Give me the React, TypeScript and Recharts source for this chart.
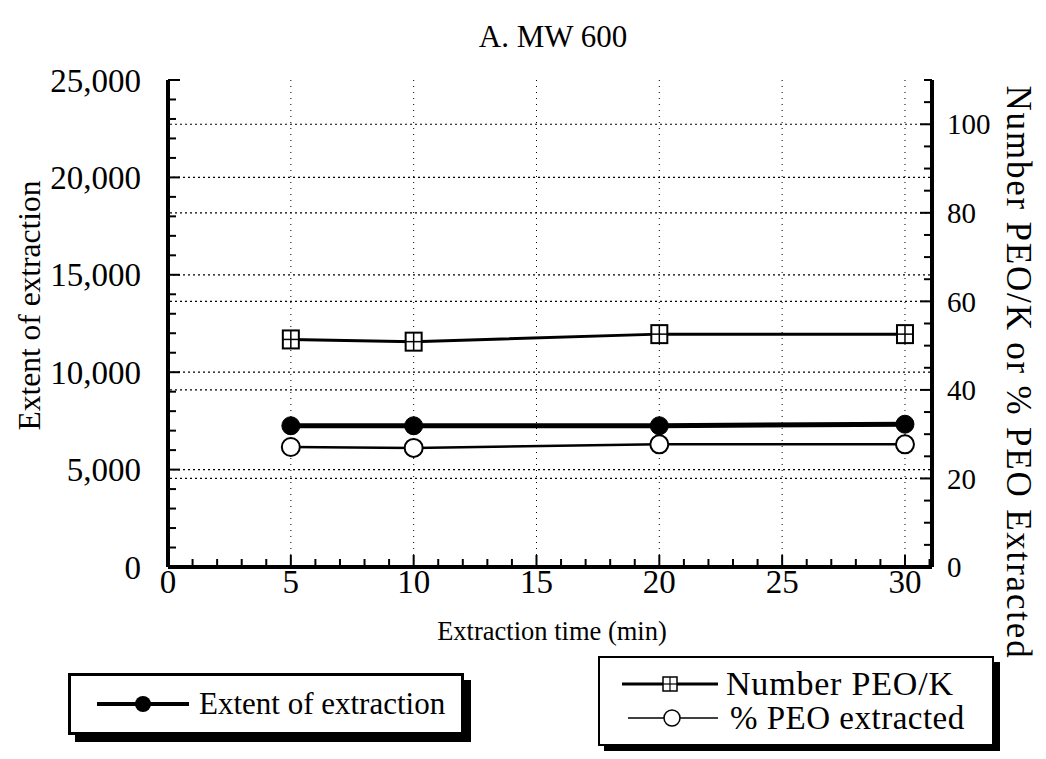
import React from 'react';
import { LineChart, Line, XAxis, YAxis, ReferenceLine, Label } from 'recharts';

const times = [5, 10, 20, 30];
const extentOfExtraction = [7250, 7250, 7250, 7330];
const numberPeoK = [51.4, 50.9, 52.6, 52.6];
const pctPeoExtracted = [27.1, 26.9, 27.7, 27.7];

const xMinorTicks = Array.from({ length: 32 }, (_, i) => i);
const leftTicks = Array.from({ length: 26 }, (_, i) => i * 1000);
const rightTicks = Array.from({ length: 23 }, (_, i) => i * 5);
const leftGrid = [5000, 10000, 15000, 20000];
const rightGrid = [20, 40, 60, 80, 100];
const xGrid = [5, 10, 15, 20, 25, 30];

const data = times.map((t, i) => ({
  time: t,
  extent: extentOfExtraction[i],
  number: numberPeoK[i],
  pct: pctPeoExtracted[i],
}));

const FONT = '"Liberation Serif", "Times New Roman", serif';

const fmt = (v: number) => v.toLocaleString('en-US');

const BottomTick = (props: any) => {
  const { x, y, payload } = props;
  const v = payload.value;
  const major = v % 5 === 0;
  return (
    <g>
      <line x1={x} x2={x} y1={y} y2={y - (major ? 12 : 8)} stroke="#000" strokeWidth={2} />
      {major && v <= 30 && (
        <text x={x} y={y + 26} textAnchor="middle" fontFamily={FONT} fontSize={33} fill="#000">
          {v}
        </text>
      )}
    </g>
  );
};

const TopTick = (props: any) => {
  const { x, y, payload } = props;
  const major = payload.value % 5 === 0;
  return <line x1={x} x2={x} y1={y} y2={y + (major ? 12 : 8)} stroke="#000" strokeWidth={2} />;
};

const LeftTick = (props: any) => {
  const { x, y, payload } = props;
  const v = payload.value;
  const major = v % 5000 === 0;
  return (
    <g>
      <line x1={x} x2={x + (major ? 12 : 8)} y1={y} y2={y} stroke="#000" strokeWidth={2} />
      {major && (
        <text x={x - 27} y={y} dy="0.35em" textAnchor="end" fontFamily={FONT} fontSize={33} fill="#000">
          {fmt(v)}
        </text>
      )}
    </g>
  );
};

const RightTick = (props: any) => {
  const { x, y, payload } = props;
  const v = payload.value;
  const major = v % 20 === 0 && v <= 100;
  return (
    <g>
      <line x1={x} x2={x - (major ? 12 : 8)} y1={y} y2={y} stroke="#000" strokeWidth={2} />
      {major && (
        <text x={x + 15} y={y} dy="0.35em" textAnchor="start" fontFamily={FONT} fontSize={29} fill="#000">
          {v}
        </text>
      )}
    </g>
  );
};

const SquareDot = (props: any) => {
  const { cx, cy } = props;
  if (cx == null || cy == null) return null;
  return (
    <g>
      <rect x={cx - 8} y={cy - 9} width={16} height={18} fill="#fff" stroke="#000" strokeWidth={2} />
      <line x1={cx} x2={cx} y1={cy - 9} y2={cy + 9} stroke="#000" strokeWidth={1.5} />
      <line x1={cx - 8} x2={cx + 8} y1={cy} y2={cy} stroke="#000" strokeWidth={1.5} />
    </g>
  );
};

const LeftLabel = (props: any) => {
  const { viewBox } = props;
  const cx = viewBox.x + 21;
  const cy = viewBox.y + viewBox.height / 2 - 18;
  return (
    <text x={cx} y={cy} transform={`rotate(-90, ${cx}, ${cy})`} textAnchor="middle" dominantBaseline="central"
      fontFamily={FONT} fontSize={31.5} fill="#000">
      Extent of extraction
    </text>
  );
};

const RightLabel = (props: any) => {
  const { viewBox } = props;
  const cx = viewBox.x + 86;
  const cy = viewBox.y + viewBox.height / 2 + 49;
  return (
    <text x={cx} y={cy} transform={`rotate(90, ${cx}, ${cy})`} textAnchor="middle" dominantBaseline="central"
      fontFamily={FONT} fontSize={35} letterSpacing={1.8} fill="#000">
      Number PEO/K or % PEO Extracted
    </text>
  );
};

const BottomLabel = (props: any) => {
  const { viewBox } = props;
  const cx = 544;
  const cy = viewBox.y + 73;
  return (
    <text x={cx} y={cy} textAnchor="middle" fontFamily={FONT} fontSize={26.5} fill="#000">
      Extraction time (min)
    </text>
  );
};

const gridProps = { stroke: '#000', strokeWidth: 1.2, strokeDasharray: '2 3' };

export default function App() {
  return (
    <div style={{ position: 'relative', width: 1030, height: 743, fontFamily: FONT, background: '#fff' }}>
      <div style={{ position: 'absolute', left: 395, width: 300, top: 11, textAlign: 'center', fontSize: 31, lineHeight: '36px' }}>
        A. MW 600
      </div>
      <LineChart width={1030} height={743} data={data} margin={{ top: 72, right: 0, bottom: 124, left: 0 }}>
        <XAxis xAxisId="top" orientation="top" type="number" dataKey="time" domain={[0, 31.1]} ticks={xMinorTicks}
          interval={0} height={0} tickSize={0} tickMargin={0} tickLine={false} tick={<TopTick />}
          axisLine={{ stroke: '#000', strokeWidth: 4 }} allowDataOverflow />
        <XAxis xAxisId="bottom" orientation="bottom" type="number" dataKey="time" domain={[0, 31.1]} ticks={xMinorTicks}
          interval={0} height={60} tickSize={0} tickMargin={0} tickLine={false} tick={<BottomTick />}
          axisLine={{ stroke: '#000', strokeWidth: 4 }} allowDataOverflow>
          <Label content={<BottomLabel />} />
        </XAxis>
        <YAxis yAxisId="left" orientation="left" type="number" domain={[0, 25000]} ticks={leftTicks} interval={0}
          width={160} tickSize={0} tickMargin={0} tickLine={false} tick={<LeftTick />}
          axisLine={{ stroke: '#000', strokeWidth: 4 }} allowDataOverflow>
          <Label content={<LeftLabel />} />
        </YAxis>
        <YAxis yAxisId="right" orientation="right" type="number" domain={[0, 110]} ticks={rightTicks} interval={0}
          width={106} tickSize={0} tickMargin={0} tickLine={false} tick={<RightTick />}
          axisLine={{ stroke: '#000', strokeWidth: 4 }} allowDataOverflow>
          <Label content={<RightLabel />} />
        </YAxis>

        {leftGrid.map((v) => (
          <ReferenceLine key={`lg-${v}`} xAxisId="bottom" yAxisId="left" y={v} {...gridProps} />
        ))}
        {rightGrid.map((v) => (
          <ReferenceLine key={`rg-${v}`} xAxisId="bottom" yAxisId="right" y={v} {...gridProps} />
        ))}
        {xGrid.map((v) => (
          <ReferenceLine key={`xg-${v}`} xAxisId="bottom" yAxisId="left" x={v} stroke="#000" strokeWidth={1} strokeDasharray="1 5" />
        ))}

        <Line xAxisId="bottom" yAxisId="right" dataKey="number" name="Number PEO/K" stroke="#000" strokeWidth={3}
          dot={<SquareDot />} isAnimationActive={false} />
        <Line xAxisId="bottom" yAxisId="right" dataKey="pct" name="% PEO extracted" stroke="#000" strokeWidth={2.5}
          dot={{ r: 9, fill: '#fff', stroke: '#000', strokeWidth: 2 }} isAnimationActive={false} />
        <Line xAxisId="bottom" yAxisId="left" dataKey="extent" name="Extent of extraction" stroke="#000" strokeWidth={5}
          dot={{ r: 9, fill: '#000', stroke: '#000', strokeWidth: 1 }} isAnimationActive={false} />
      </LineChart>

      <div style={{ position: 'absolute', left: 60, top: 665, width: 390, height: 56, border: '3px solid #000',
        boxShadow: '7px 7px 0 #000', background: '#fff', display: 'flex', alignItems: 'center' }}>
        <svg width={100} height={30} style={{ marginLeft: 22 }}>
          <line x1={4} x2={96} y1={15} y2={15} stroke="#000" strokeWidth={4} />
          <circle cx={50} cy={15} r={8} fill="#000" />
        </svg>
        <span style={{ fontSize: 31, marginLeft: 6 }}>Extent of extraction</span>
      </div>

      <div style={{ position: 'absolute', left: 590, top: 648, width: 392, height: 86, border: '2px solid #000',
        boxShadow: '6px 6px 0 #000', background: '#fff' }}>
        <div style={{ display: 'flex', alignItems: 'center', height: 34, marginTop: 9 }}>
          <svg width={100} height={24} style={{ marginLeft: 20 }}>
            <line x1={2} x2={98} y1={12} y2={12} stroke="#000" strokeWidth={3} />
            <rect x={43} y={5} width={14} height={14} fill="#fff" stroke="#000" strokeWidth={1.5} />
            <line x1={50} x2={50} y1={5} y2={19} stroke="#000" strokeWidth={1.2} />
            <line x1={43} x2={57} y1={12} y2={12} stroke="#000" strokeWidth={1.2} />
          </svg>
          <span style={{ fontSize: 34, letterSpacing: 0.8, marginLeft: 6 }}>Number PEO/K</span>
        </div>
        <div style={{ display: 'flex', alignItems: 'center', height: 34 }}>
          <svg width={100} height={24} style={{ marginLeft: 26 }}>
            <line x1={2} x2={92} y1={12} y2={12} stroke="#000" strokeWidth={1.5} />
            <circle cx={46} cy={12} r={8} fill="#fff" stroke="#000" strokeWidth={1.5} />
          </svg>
          <span style={{ fontSize: 33, letterSpacing: 0.5, marginLeft: 4 }}>% PEO extracted</span>
        </div>
      </div>
    </div>
  );
}
